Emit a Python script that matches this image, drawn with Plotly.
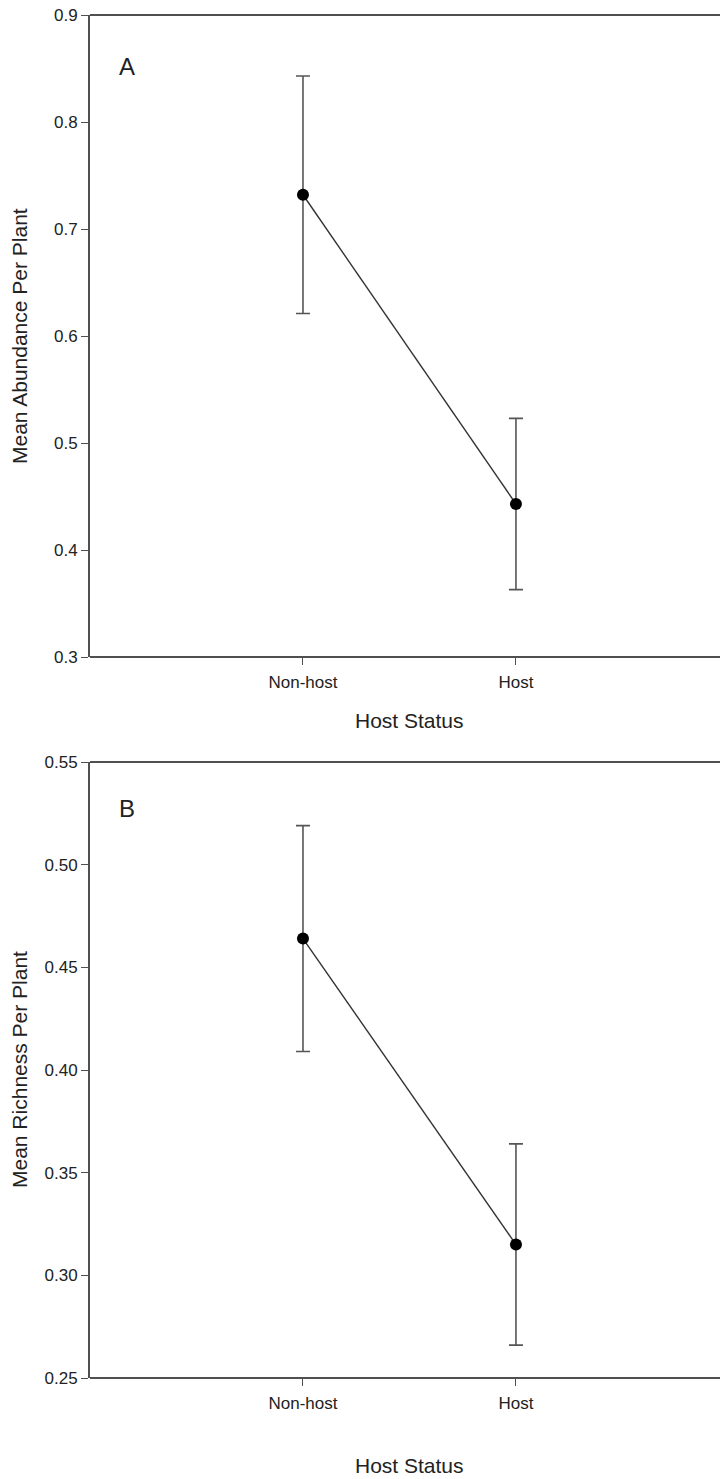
import plotly.graph_objects as go

categories = ["Non-host", "Host"]
cat_pos = [1, 2]

abund_mean = [0.732, 0.443]
abund_err = [0.111, 0.080]

rich_mean = [0.464, 0.315]
rich_err = [0.055, 0.049]

yticks_a = [0.3, 0.4, 0.5, 0.6, 0.7, 0.8, 0.9]
yticks_b = [0.25, 0.30, 0.35, 0.40, 0.45, 0.50, 0.55]

FONT = "Liberation Sans, Arial, sans-serif"
AX = "#505050"
TXT = "#222222"

fig = go.Figure()

def add_series(mean, err, xa, ya):
    fig.add_trace(go.Scatter(
        x=cat_pos, y=mean, xaxis=xa, yaxis=ya, mode="lines+markers",
        line=dict(color="#333333", width=1.4),
        marker=dict(color="black", size=12),
        error_y=dict(type="data", array=err, visible=True, color="#555555",
                     thickness=1.6, width=7),
        showlegend=False, hoverinfo="skip", cliponaxis=False))

add_series(abund_mean, abund_err, "x", "y")
add_series(rich_mean, rich_err, "x2", "y2")

H = 1479.0
domA = [1 - 657 / H, 1 - 15 / H]
domB = [1 - 1378 / H, 1 - 762 / H]
xdom = [90 / 720.0, 0.98]
xmax = 2.958 * (0.98 - 0.125) / 0.875

common_x = dict(range=[0, xmax], tickvals=cat_pos, ticktext=categories,
                showline=False,
                ticks="outside", ticklen=7, tickcolor=AX, tickwidth=1.3,
                ticklabelstandoff=3,
                showgrid=False, zeroline=False, automargin=False,
                tickfont=dict(family=FONT, size=17, color=TXT))
common_y = dict(showline=True, linecolor=AX, linewidth=1.8, mirror=False,
                ticks="outside", ticklen=7, tickcolor=AX, tickwidth=1.3,
                showgrid=False, zeroline=False, automargin=False,
                tickfont=dict(family=FONT, size=17, color=TXT))

fig.update_layout(
    width=720, height=1479,
    margin=dict(l=0, r=0, t=0, b=0),
    paper_bgcolor="white", plot_bgcolor="rgba(0,0,0,0)",
    xaxis=dict(domain=xdom, anchor="y", **common_x),
    yaxis=dict(domain=domA, anchor="x", range=[0.3, 0.9], tickvals=yticks_a,
               ticktext=[f"{v:.1f}" for v in yticks_a], **common_y),
    xaxis2=dict(domain=xdom, anchor="y2", **common_x),
    yaxis2=dict(domain=domB, anchor="x2", range=[0.25, 0.55], tickvals=yticks_b,
                ticktext=[f"{v:.2f}" for v in yticks_b], **common_y),
)

# top and bottom frame lines, extended to the right edge of the page
for yr in ("y domain", "y2 domain"):
    for yv in (0, 1):
        fig.add_shape(type="line", xref="paper", yref=yr, x0=0.125, x1=1, y0=yv, y1=yv,
                      line=dict(color=AX, width=1.8))

def ann(text, x, y, size, angle=0):
    fig.add_annotation(text=text, x=x / 720.0, y=1 - y / H, xref="paper", yref="paper",
                       showarrow=False, textangle=angle, xanchor="center", yanchor="middle",
                       font=dict(family=FONT, size=size, color=TXT))

ann("Mean Abundance Per Plant", 19, 336, 21, -90)
ann("Mean Richness Per Plant", 19, 1070, 21, -90)
ann("Host Status", 409, 720, 21)
ann("Host Status", 409, 1465, 21)
ann("A", 127, 67, 24)
ann("B", 127, 808, 24)

fig.write_html("out.html", config={"displayModeBar": False})
